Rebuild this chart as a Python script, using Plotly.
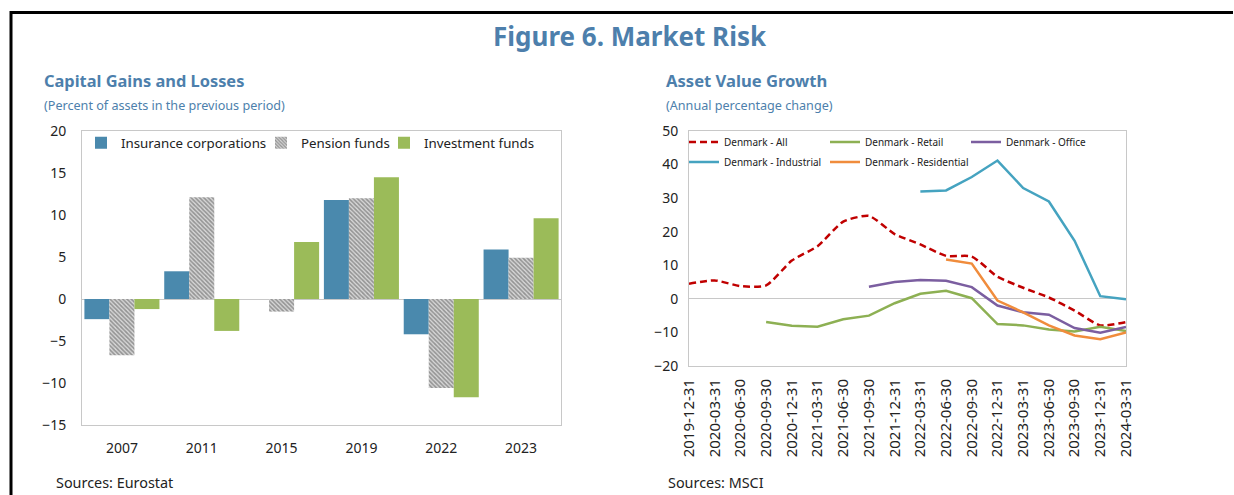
import plotly.graph_objects as go

# ---------------- data ----------------
years = ["2007", "2011", "2015", "2019", "2022", "2023"]
insurance = [-2.4, 3.3, 0.0, 11.8, -4.2, 5.9]
pension = [-6.7, 12.1, -1.5, 12.0, -10.6, 4.9]
investment = [-1.2, -3.8, 6.8, 14.5, -11.7, 9.6]

dates = ["2019-12-31", "2020-03-31", "2020-06-30", "2020-09-30", "2020-12-31",
         "2021-03-31", "2021-06-30", "2021-09-30", "2021-12-31", "2022-03-31",
         "2022-06-30", "2022-09-30", "2022-12-31", "2023-03-31", "2023-06-30",
         "2023-09-30", "2023-12-31", "2024-03-31"]
dk_all = [4.5, 5.5, 3.8, 4.0, 11.4, 15.7, 23.0, 24.7, 19.3, 16.2, 12.8, 12.6,
          6.6, 3.3, 0.4, -3.5, -7.9, -6.9]
dk_retail = [None, None, None, -6.9, -8.0, -8.3, -6.1, -5.0, -1.3, 1.5, 2.4, 0.2,
             -7.5, -7.9, -9.1, -9.7, -8.3, -9.6]
dk_office = [None, None, None, None, None, None, None, 3.6, 5.0, 5.6, 5.4, 3.5,
             -2.0, -4.0, -4.7, -8.7, -10.1, -8.4]
dk_industrial = [None, None, None, None, None, None, None, None, None, 32.0, 32.3, 36.3,
                 41.2, 33.0, 29.0, 17.3, 0.8, -0.1]
dk_residential = [None, None, None, None, None, None, None, None, None, None, 11.7, 10.5,
                  -0.5, -4.0, -7.9, -10.9, -12.0, -10.0]

left_range = [-15, 20]
right_range = [-20, 50]

W, H = 1234, 495
FONT = "Noto Sans"
BLUE_T = "#4d7fac"
TXT = "#222222"
AXC = "#c8c8c8"


def px(x):
    return x / W


def py(y):
    return 1 - y / H


left_ydom = [py(425), py(131)]
right_ydom = [py(366), py(131)]


def zero_pos(dom, rng):
    return dom[0] + (0 - rng[0]) / (rng[1] - rng[0]) * (dom[1] - dom[0])


fig = go.Figure()

# ---- left chart: bars ----
fig.add_trace(go.Bar(x=years, y=insurance, name="Insurance corporations",
                     marker=dict(color="#4a89ad", line=dict(width=0)),
                     xaxis="x", yaxis="y", legend="legend", showlegend=True))
fig.add_trace(go.Bar(x=years, y=pension, name="Pension funds",
                     marker=dict(color="#ffffff", line=dict(width=0),
                                 pattern=dict(shape="\\", fgcolor="#4f4f4f", bgcolor="#d8d8d8",
                                              size=3, solidity=0.55)),
                     xaxis="x", yaxis="y", legend="legend2"))
fig.add_trace(go.Bar(x=years, y=investment, name="Investment funds",
                     marker=dict(color="#9bbb59", line=dict(width=0)),
                     xaxis="x", yaxis="y", legend="legend3"))

# ---- right chart: lines ----
line_specs = [
    ("Denmark - All", dk_all, "#c00000", "7px,4px", "legend4", "spline"),
    ("Denmark - Retail", dk_retail, "#8db053", "solid", "legend5", "linear"),
    ("Denmark - Office", dk_office, "#7b5ea0", "solid", "legend6", "linear"),
    ("Denmark - Industrial", dk_industrial, "#45a3c0", "solid", "legend7", "linear"),
    ("Denmark - Residential", dk_residential, "#f08c3c", "solid", "legend8", "linear"),
]
for name, vals, col, dash, leg, shape in line_specs:
    fig.add_trace(go.Scatter(x=dates, y=vals, name=name, mode="lines",
                             line=dict(color=col, width=2.5, dash=dash, shape=shape,
                                       smoothing=0.6),
                             connectgaps=False,
                             xaxis="x2", yaxis="y2", legend=leg))

axis_common = dict(showline=True, linecolor=AXC, linewidth=1, mirror=True,
                   showgrid=False, tickfont=dict(family=FONT, size=14, color=TXT))

leg_left = dict(orientation="h", xanchor="left", yanchor="middle",
                bgcolor="rgba(0,0,0,0)", font=dict(family=FONT, size=13.3, color=TXT),
                itemwidth=30)
leg_right = dict(orientation="h", xanchor="left", yanchor="middle",
                 bgcolor="rgba(0,0,0,0)", font=dict(family=FONT, size=10, color=TXT),
                 itemwidth=30)

# small tick marks on the zero lines at category boundaries
tick_axis = dict(anchor="free", side="top", ticks="outside", ticklen=4, tickwidth=1,
                 tickcolor=AXC, showticklabels=False, showline=False, showgrid=False,
                 zeroline=False, type="linear")

fig.update_layout(
    width=W, height=H,
    margin=dict(l=0, r=0, t=0, b=0, autoexpand=False),
    paper_bgcolor="white", plot_bgcolor="white",
    font=dict(family=FONT, color=TXT),
    showlegend=True,
    barmode="group", bargap=0.06, bargroupgap=0,
    xaxis=dict(domain=[px(82), px(561)], anchor="y", type="category",
               ticks="", ticklabelstandoff=10, **axis_common),
    yaxis=dict(domain=left_ydom, anchor="x", range=left_range, dtick=5,
               zeroline=True, zerolinecolor=AXC, zerolinewidth=1,
               ticks="", ticklabelstandoff=12, **axis_common),
    xaxis2=dict(domain=[px(689), px(1126)], anchor="y2", type="category",
                tickangle=-90, ticks="", ticklabelstandoff=6,
                **{**axis_common, "tickfont": dict(family=FONT, size=15, color=TXT)}),
    yaxis2=dict(domain=right_ydom, anchor="x2", range=right_range, dtick=10,
                zeroline=True, zerolinecolor=AXC, zerolinewidth=1,
                ticks="", ticklabelstandoff=7, **axis_common),
    xaxis3=dict(overlaying="x", position=zero_pos(left_ydom, left_range),
                range=[-0.5, len(years) - 0.5],
                tickvals=[i + 0.5 for i in range(len(years) - 1)], **tick_axis),
    xaxis4=dict(overlaying="x2", position=zero_pos(right_ydom, right_range),
                range=[-0.5, len(dates) - 0.5],
                tickvals=[i + 0.5 for i in range(len(dates) - 1)], **tick_axis),
    legend=dict(x=px(81), y=py(143), **leg_left),
    legend2=dict(x=px(261), y=py(143), **leg_left),
    legend3=dict(x=px(384), y=py(143), **leg_left),
    legend4=dict(x=px(684), y=py(142), **leg_right),
    legend5=dict(x=px(825), y=py(142), **leg_right),
    legend6=dict(x=px(966), y=py(142), **leg_right),
    legend7=dict(x=px(684), y=py(162), **leg_right),
    legend8=dict(x=px(825), y=py(162), **leg_right),
)

annotations = [
    dict(text="<b>Figure 6. Market Risk</b>", x=px(630), y=py(36), xanchor="center",
         yanchor="middle", font=dict(family=FONT, size=26, color=BLUE_T)),
    dict(text="<b>Capital Gains and Losses</b>", x=px(42), y=py(81), xanchor="left",
         yanchor="middle", font=dict(family=FONT, size=16.4, color=BLUE_T)),
    dict(text="(Percent of assets in the previous period)", x=px(42), y=py(105),
         xanchor="left", yanchor="middle", font=dict(family=FONT, size=12.6, color=BLUE_T)),
    dict(text="<b>Asset Value Growth</b>", x=px(664), y=py(81), xanchor="left",
         yanchor="middle", font=dict(family=FONT, size=16.6, color=BLUE_T)),
    dict(text="(Annual percentage change)", x=px(664), y=py(105),
         xanchor="left", yanchor="middle", font=dict(family=FONT, size=12.6, color=BLUE_T)),
    dict(text="Sources: Eurostat", x=px(54), y=py(482), xanchor="left", yanchor="middle",
         font=dict(family=FONT, size=14.4, color=TXT)),
    dict(text="Sources: MSCI", x=px(666), y=py(482), xanchor="left", yanchor="middle",
         font=dict(family=FONT, size=14.4, color=TXT)),
]
for a in annotations:
    a.update(xref="paper", yref="paper", showarrow=False)
fig.update_layout(annotations=annotations)

fig.update_layout(shapes=[
    dict(type="line", xref="paper", yref="paper", x0=px(10), x1=px(1233),
         y0=py(12.5), y1=py(12.5), line=dict(color="black", width=3)),
    dict(type="line", xref="paper", yref="paper", x0=px(11), x1=px(11),
         y0=py(11), y1=0, line=dict(color="black", width=3)),
])

fig.write_html("out.html", config={"displayModeBar": False},
               post_script="document.body.style.margin='0';document.body.style.overflow='hidden';")
